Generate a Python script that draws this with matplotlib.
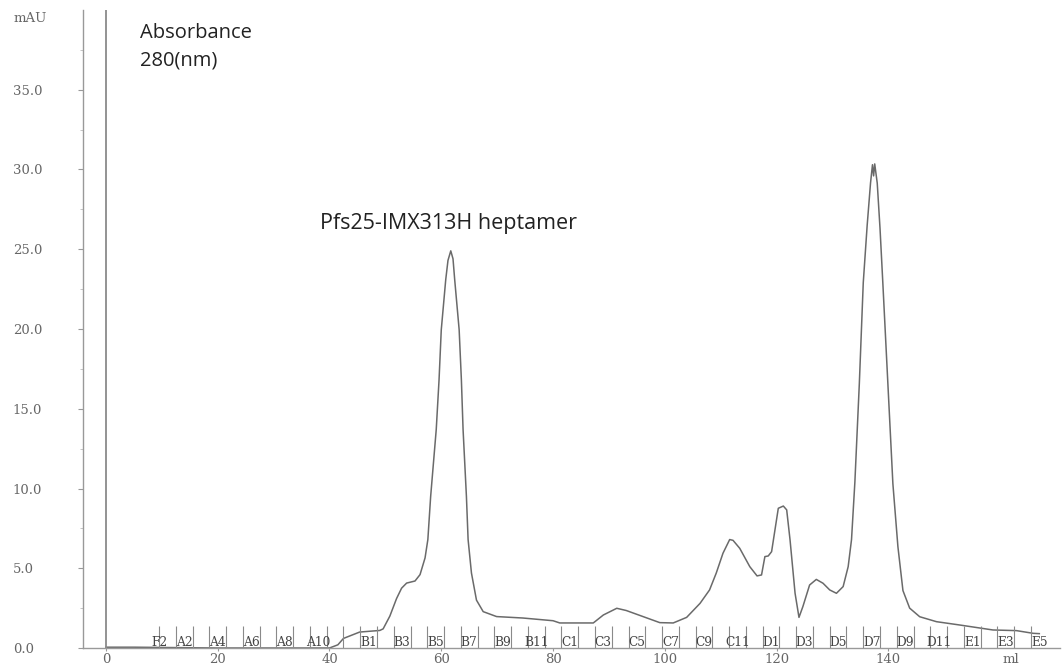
import numpy as np
import matplotlib.pyplot as plt

# elution volume (ml) and absorbance at 280 nm (mAU)
volume = [0, 5, 20, 40, 41.5, 42.5, 45.4, 49.0, 49.6, 50.8, 52.0, 52.9, 53.8, 55.3, 56.2,
          57.1, 57.6, 58.1, 59.1, 59.6, 60.0, 60.8, 61.2, 61.7, 62.1, 62.4, 63.2, 63.6,
          63.9, 64.5, 64.8, 65.4, 66.3, 67.5, 69.9, 74.6, 80.0, 81.2, 83.0, 87.2, 89.0,
          91.4, 93.1, 96.1, 99.1, 101.5, 103.9, 106.3, 108.0, 109.2, 110.4, 111.6, 112.2,
          113.4, 115.2, 116.5, 117.3, 117.9, 118.5, 119.1, 119.7, 120.3, 121.2, 121.8,
          122.4, 123.3, 124.0, 124.7, 125.9, 127.1, 128.3, 129.5, 130.7, 131.9, 132.8,
          133.4, 134.0, 134.8, 135.5, 136.2, 136.8, 137.15, 137.35, 137.55, 138.0, 138.5,
          139.0, 139.9, 140.8, 141.7, 142.6, 143.8, 145.6, 148.6, 152.8, 158.7, 162.9,
          165.9, 167.0]
absorbance = [0.05, 0.05, 0.0, 0.0, 0.2, 0.6, 1.0, 1.1, 1.2, 2.0, 3.1, 3.75, 4.07, 4.2, 4.6,
              5.65, 6.8, 9.5, 13.7, 16.8, 19.95, 23.1, 24.3, 24.9, 24.4, 23.1, 19.95, 16.8,
              13.7, 9.5, 6.8, 4.7, 3.0, 2.28, 1.97, 1.88, 1.71, 1.57, 1.57, 1.57, 2.07,
              2.49, 2.35, 1.97, 1.59, 1.57, 1.92, 2.8, 3.64, 4.7, 5.94, 6.8, 6.75,
              6.25, 5.1, 4.52, 4.58, 5.73, 5.77, 6.04, 7.4, 8.76, 8.9, 8.66,
              6.78, 3.43, 1.92, 2.6, 3.95, 4.3, 4.06, 3.64, 3.43, 3.85, 5.1,
              6.8, 10.4, 16.6, 22.9, 26.5, 29.15, 30.3, 29.6, 30.35, 29.15, 26.3,
              22.9, 16.6, 10.3, 6.35, 3.6, 2.5, 1.96, 1.65, 1.44, 1.13, 1.09,
              0.92, 0.9]

# fraction collector marks
frac_start = 9.5
frac_width = 3.0
frac_count = 53
frac_labels = ['F2', 'A2', 'A4', 'A6', 'A8', 'A10', 'B1', 'B3', 'B5', 'B7', 'B9', 'B11',
               'C1', 'C3', 'C5', 'C7', 'C9', 'C11', 'D1', 'D3', 'D5', 'D7', 'D9', 'D11',
               'E1', 'E3', 'E5']
frac_label_pos = [9.6, 14, 20, 26, 32, 38, 47, 53, 59, 65, 71, 77, 83, 89, 95, 101, 107,
                  113, 119, 125, 131, 137, 143, 149, 155, 161, 167]

xticks = [0, 20, 40, 60, 80, 100, 120, 140]
yticks = [0, 5, 10, 15, 20, 25, 30, 35]

serif = 'DejaVu Serif'
gray = '#666666'

fig = plt.figure(figsize=(10.63, 6.67), dpi=100)
ax = fig.add_axes([83 / 1063, 19 / 667, 977 / 1063, 638 / 667])

ax.plot(volume, absorbance, color='#6a6a6a', lw=1.1)
ax.axvline(0, color='#8a8a8a', lw=1.3)

edges = frac_start + frac_width * np.arange(frac_count)
ax.vlines(edges, 0, 1.4, color='#8a8a8a', lw=0.8)
for lab, pos in zip(frac_labels, frac_label_pos):
    ax.text(pos, 0.12, lab, ha='center', va='baseline', family=serif,
            fontsize=8.8, color='#444444')

ax.set_xlim(-4.1, 170.7)
ax.set_ylim(0, 40)

for side in ['top', 'right']:
    ax.spines[side].set_visible(False)
for side in ['left', 'bottom']:
    ax.spines[side].set_color('#999999')
    ax.spines[side].set_linewidth(1.0)

ax.set_xticks(xticks)
ax.set_xticklabels([str(v) for v in xticks], family=serif, fontsize=9.5, color=gray)
ax.tick_params(axis='x', length=2, color='#999999', pad=1.5)

ax.set_yticks(yticks)
ax.set_yticks(np.arange(2.5, 40, 5), minor=True)
ax.set_yticklabels(['%.1f' % v for v in yticks], family=serif, fontsize=9.5, color=gray,
                   ha='left')
ax.tick_params(axis='y', which='major', length=3.5, color='#999999', pad=47)
ax.tick_params(axis='y', which='minor', length=2.5, color='#bbbbbb')

fig.text(14 / 1063, 1 - 18.5 / 667, 'mAU', ha='left', va='center', family=serif,
         fontsize=9.5, color=gray)
ax.text(162, -0.75, 'ml', ha='center', va='center', family=serif, fontsize=9.5, color=gray)

ax.text(6.1, 38.27, 'Absorbance', family='Open Sans', fontsize=14.5, color='#222222',
        va='baseline')
ax.text(6.1, 36.5, '280(nm)', family='Open Sans', fontsize=14.5, color='#222222',
        va='baseline')
ax.text(38.3, 26.27, 'Pfs25-IMX313H heptamer', family='Open Sans', fontsize=15.5,
        color='#222222', va='baseline')

fig.savefig('out.png', dpi=100, facecolor='white')
